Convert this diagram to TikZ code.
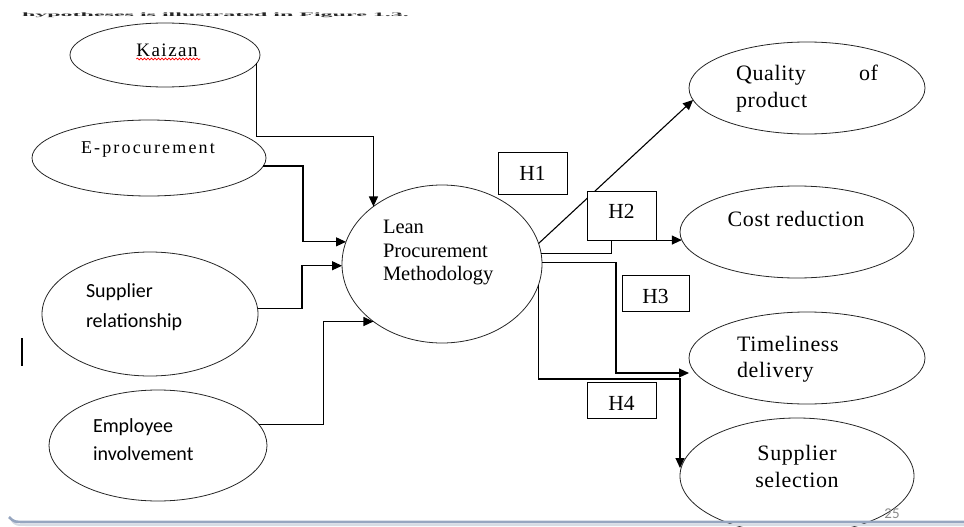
\documentclass[tikz,border=0pt]{standalone}
\usepackage{fontspec}
\setmainfont{Liberation Serif}
\newfontfamily\carlitofont{Carlito}
\usetikzlibrary{arrows.meta,shapes.geometric,calc,decorations.pathmorphing}
\definecolor{framecol}{RGB}{150,166,192}
\definecolor{framesh}{RGB}{215,220,228}
\begin{document}
\begin{tikzpicture}[x=1pt,y=-1pt,
  ell/.style={draw=black!85, line width=0.8pt, ellipse, inner sep=0pt, outer sep=0pt},
  conn/.style={line width=1.1pt, -{Triangle[length=10pt,width=9pt]}},
  hbox/.style={draw, line width=0.9pt, fill=white, inner sep=0pt, outer sep=0pt},
  lbl/.style={inner sep=0pt, outer sep=0pt},
  serl/.style={lbl, font=\fontsize{20.5}{24}\selectfont},
  serr/.style={lbl, font=\fontsize{22}{26}\selectfont\addfontfeatures{LetterSpace=3}},
  sanl/.style={lbl, font=\carlitofont\fontsize{20}{24}\selectfont},
  hl/.style={lbl, font=\fontsize{21.5}{24}\selectfont}]
\useasboundingbox (0,0) rectangle (964,527);
% cut-off top line: only a thin strip of it shows
\node[lbl, anchor=base west, text=black!85, font=\fontsize{24}{28}\selectfont\bfseries] (toptext) at (22,17) {\scalebox{1}[0.22]{hypotheses is illustrated in Figure 1.3.}};
% ellipses
\node[ell, minimum width=190pt, minimum height=64pt] (kaizan) at (165,55) {};
\node[ell, minimum width=234pt, minimum height=76pt] (eproc) at (149,158) {};
\node[ell, minimum width=216pt, minimum height=124pt] (suprel) at (150,314) {};
\node[ell, minimum width=218pt, minimum height=111pt] (emp) at (158,445.5) {};
\node[ell, minimum width=200pt, minimum height=158pt] (lean) at (442,264) {};
\node[ell, minimum width=236pt, minimum height=92pt] (qual) at (807,88) {};
\node[ell, minimum width=234pt, minimum height=92pt] (cost) at (797,232) {};
\node[ell, minimum width=236pt, minimum height=92pt] (time) at (807,358) {};
\node[ell, minimum width=234pt, minimum height=116pt] (sel) at (797,476) {};
% labels
\node[serl, anchor=base, font=\fontsize{19}{22}\selectfont\addfontfeatures{LetterSpace=8}] (kaizant) at (167,57) {Kaizan};
\draw[red, line width=0.7pt, decorate, decoration={snake, amplitude=0.9pt, segment length=3.5pt}] (kaizant.base west) ++(0,2) -- ++(64,0);
\node[serl, anchor=base west, font=\fontsize{18}{22}\selectfont\addfontfeatures{LetterSpace=12}] (eproct) at (81,153) {E-procurement};
\node[sanl, anchor=base west] (suprel1) at (86,297) {Supplier};
\node[sanl, anchor=base west] (suprel2) at (86,327) {relationship};
\node[sanl, anchor=base west] (emp1) at (93,432) {Employee};
\node[sanl, anchor=base west] (emp2) at (93,460) {involvement};
\node[serl, anchor=base west] (lean1) at (383,233) {Lean};
\node[serl, anchor=base west] (lean2) at (383,257) {Procurement};
\node[serl, anchor=base west] (lean3) at (383,280) {Methodology};
\node[serr, anchor=base west] (qual1) at (736,81) {\makebox[142pt][s]{Quality\hfill of}};
\node[serr, anchor=base west] (qual2) at (736,107) {product};
\node[serr, anchor=base] (costt) at (796,226) {Cost reduction};
\node[serr, anchor=base west] (time1) at (737,351) {Timeliness};
\node[serr, anchor=base west] (time2) at (737,377) {delivery};
\node[serr, anchor=base] (sel1) at (797,460) {Supplier};
\node[serr, anchor=base] (sel2) at (797,487) {selection};
% input connectors
\draw[conn] (kaizan.-5) |- ($(lean.140.5)+(0,-70)$) -- (lean.140.5);
\draw[conn] (eproc.-4) -| ($(lean.167.7)+(-43,0)$) -- (lean.167.7);
\draw[conn] (suprel.3) -| ($(lean.181)+(-40,0)$) -- (lean.181);
\draw[conn] (emp.12.7) -| ($(lean.-140.5)+(-50,0)$) -- (lean.-140.5);
% output connectors
\draw[conn] (lean.12.3) -- (qual.186);
\draw[conn] (lean.6.3) -| ($(cost.184)+(-70,0)$) -- (cost.184);
\draw[conn] (lean.1) -| ($(time.west)+(-73,15)$) -- ($(time.west)+(0,15)$);
\draw[conn] (lean.-12.9) |- ($(sel.west)+(0,-97)$) -- ($(sel.west)+(0,-8)$);
% hypothesis boxes
\node[hbox, minimum width=69pt, minimum height=42pt] (h1) at (532.5,173) {};
\node[hbox, minimum width=69pt, minimum height=49pt] (h2) at (621.5,215.5) {};
\node[hbox, minimum width=67pt, minimum height=36pt] (h3) at (655.5,293) {};
\node[hbox, minimum width=69pt, minimum height=36pt] (h4) at (621.5,400) {};
\node[hl, anchor=base] (h1t) at (h1 |- 0,180) {H1};
\node[hl, anchor=base] (h2t) at (h2 |- 0,218) {H2};
\node[hl, anchor=base] (h3t) at (h3 |- 0,303) {H3};
\node[hl, anchor=base] (h4t) at (h4 |- 0,410) {H4};
% cursor bar
\draw[line width=1.1pt] (22,338) coordinate (cura) -- (22,366) coordinate (curb);
% bottom frame
\draw[framesh, line width=2pt] (12,521) .. controls (16,525) .. (28,525) -- (964,525);
\draw[framecol, line width=2.6pt] (9,517) .. controls (14,522) .. (26,522) -- (964,522);
\node[lbl, anchor=base, font=\carlitofont\fontsize{15}{18}\selectfont, text=black!45] (pagenum) at (892,518) {25};
\end{tikzpicture}
\end{document}
